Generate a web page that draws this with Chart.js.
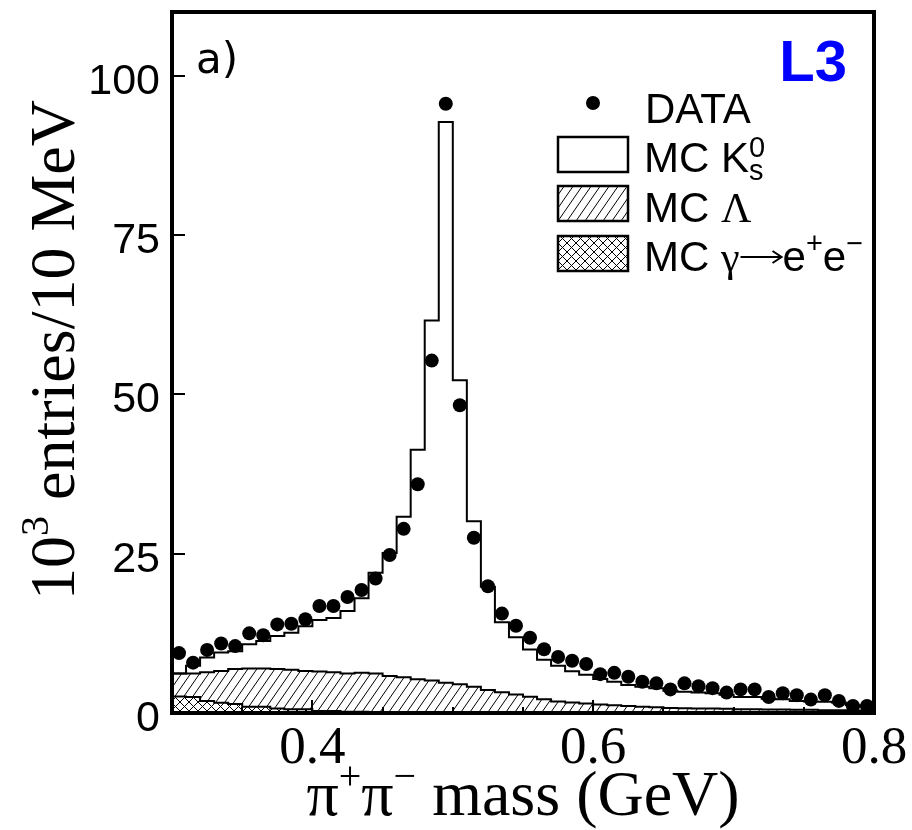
<!DOCTYPE html>
<html>
<head>
<meta charset="utf-8">
<script src="https://cdn.jsdelivr.net/npm/chart.js@4.4.0/dist/chart.umd.min.js"></script>
<style>
  html, body { margin: 0; padding: 0; background: #fff; }
  #wrap { width: 912px; height: 830px; position: relative; }
</style>
</head>
<body>
<div id="wrap"><canvas id="massChart"></canvas></div>
<script>
// pi+pi- mass bins (low edges, GeV), 10 MeV wide
const massBins = [0.30, 0.31, 0.32, 0.33, 0.34, 0.35, 0.36, 0.37, 0.38, 0.39,
                  0.40, 0.41, 0.42, 0.43, 0.44, 0.45, 0.46, 0.47, 0.48, 0.49,
                  0.50, 0.51, 0.52, 0.53, 0.54, 0.55, 0.56, 0.57, 0.58, 0.59,
                  0.60, 0.61, 0.62, 0.63, 0.64, 0.65, 0.66, 0.67, 0.68, 0.69,
                  0.70, 0.71, 0.72, 0.73, 0.74, 0.75, 0.76, 0.77, 0.78, 0.79];
const binWidth = 0.01;

// 10^3 entries / 10 MeV
const dataEntries = [9.4, 7.9, 9.9, 10.9, 10.5, 12.5, 12.2, 13.9, 14.0, 14.7,
                     16.8, 16.8, 18.2, 19.3, 21.1, 24.8, 28.9, 35.9, 55.3, 95.6,
                     48.3, 27.5, 19.9, 15.6, 13.7, 11.8, 10.0, 8.8, 8.2, 7.7,
                     6.1, 6.3, 5.7, 4.9, 4.65, 3.7, 4.65, 4.2, 3.9, 3.2,
                     3.7, 3.7, 2.5, 3.1, 2.8, 2.1, 2.8, 1.9, 1.1, 1.1];

// MC components (stacked: gamma at the bottom, then Lambda, then K0s)
const mcGamma = [2.6, 2.5, 1.9, 1.6, 1.4, 1.0, 1.0, 0.7, 0.6, 0.6,
                 0.3, 0.3, 0.2, 0.2, 0.1, 0.1, 0.1, 0, 0, 0,
                 0, 0, 0, 0, 0, 0, 0, 0, 0, 0,
                 0, 0, 0, 0, 0, 0, 0, 0, 0, 0,
                 0, 0, 0, 0, 0, 0, 0, 0, 0, 0];
const mcLambda = [3.6, 3.7, 4.5, 5.0, 5.5, 6.0, 6.0, 6.2, 6.2, 6.0,
                  6.2, 6.1, 6.0, 6.1, 6.1, 5.7, 5.5, 5.3, 5.1, 4.75,
                  4.5, 4.1, 3.6, 3.25, 2.9, 2.55, 2.15, 1.8, 1.65, 1.5,
                  1.35, 1.2, 1.1, 1.0, 0.9, 0.8, 0.75, 0.7, 0.7, 0.65,
                  0.6, 0.6, 0.55, 0.55, 0.5, 0.5, 0.45, 0.45, 0.4, 0.4];
const mcK0 = [0, 1.2, 2.3, 2.9, 2.8, 3.8, 4.3, 5.2, 5.8, 7.0,
              8.1, 8.5, 9.8, 11.7, 15.8, 19.3, 25.2, 36.0, 56.5, 88.0,
              47.7, 26.0, 16.2, 11.0, 9.0, 7.4, 6.2, 5.6, 4.9, 4.5,
              4.0, 3.7, 3.3, 3.1, 3.0, 2.7, 2.6, 2.5, 2.4, 2.2,
              1.9, 1.9, 1.7, 1.6, 1.4, 1.3, 1.3, 1.2, 0.8, 0.6];

const yTicks = [0, 25, 50, 75, 100];
const xTicks = [0.4, 0.6, 0.8];

const SANS = '"Liberation Sans", Arial, sans-serif';
const SERIF = '"Liberation Serif", "Times New Roman", serif';

// stacked sums
const lambdaTop = mcLambda.map((v, i) => v + mcGamma[i]);
const k0Top = mcK0.map((v, i) => v + lambdaTop[i]);

// step histogram points: left edges + closing right edge
function steps(values) {
  const pts = massBins.map((x, i) => ({ x: x, y: values[i] }));
  pts.push({ x: massBins[massBins.length - 1] + binWidth, y: values[values.length - 1] });
  return pts;
}

function makePattern(w, h, cross) {
  const c = document.createElement('canvas');
  c.width = w; c.height = h;
  const g = c.getContext('2d');
  g.fillStyle = '#fff';
  g.fillRect(0, 0, w, h);
  g.strokeStyle = '#000';
  g.lineWidth = 1;
  g.beginPath();
  for (let k = -w; k <= w; k += w) {
    g.moveTo(k, h); g.lineTo(k + w, 0);
    if (cross) { g.moveTo(k, 0); g.lineTo(k + w, h); }
  }
  g.stroke();
  return g.createPattern(c, 'repeat');
}
const hatch = makePattern(9, 13, false);
const crossHatch = makePattern(9, 9, true);

// draw a run of text pieces, returns total width
function runText(ctx, pieces, x, y, measureOnly) {
  let cx = x;
  pieces.forEach(p => {
    if (p.arrow) {
      if (!measureOnly) {
        const ay = y - p.arrow.lift;
        ctx.save();
        ctx.lineWidth = 2;
        ctx.strokeStyle = '#000';
        ctx.beginPath();
        ctx.moveTo(cx + 1, ay);
        ctx.lineTo(cx + p.arrow.len - 1, ay);
        ctx.moveTo(cx + p.arrow.len - 10, ay - 6);
        ctx.lineTo(cx + p.arrow.len - 1, ay);
        ctx.lineTo(cx + p.arrow.len - 10, ay + 6);
        ctx.stroke();
        ctx.restore();
      }
      cx += p.arrow.len;
      return;
    }
    ctx.font = p.font;
    if (!measureOnly) ctx.fillText(p.t, cx, y - (p.rise || 0));
    if (!p.noAdvance) cx += ctx.measureText(p.t).width;
  });
  return cx - x;
}

const decorations = {
  id: 'decorations',
  afterDatasetsDraw(chart) {
    const ctx = chart.ctx;
    const a = chart.chartArea;
    const xs = chart.scales.x, ys = chart.scales.y;
    ctx.save();
    ctx.strokeStyle = '#000';
    ctx.lineWidth = 2;
    // inward ticks
    ctx.beginPath();
    for (let v = 0.30; v <= 0.8001; v += 0.05) {
      const px = Math.round(xs.getPixelForValue(v));
      const major = xTicks.some(t => Math.abs(t - v) < 1e-6);
      ctx.moveTo(px, a.bottom);
      ctx.lineTo(px, a.bottom - (major ? 13 : 6));
    }
    yTicks.forEach(v => {
      const py = Math.round(ys.getPixelForValue(v));
      ctx.moveTo(a.left, py);
      ctx.lineTo(a.left + 13, py);
    });
    ctx.stroke();
    // frame
    ctx.lineWidth = 4;
    ctx.strokeRect(a.left, a.top, a.right - a.left, a.bottom - a.top);
    ctx.restore();
  },
  afterDraw(chart) {
    const ctx = chart.ctx;
    const a = chart.chartArea;
    const xs = chart.scales.x, ys = chart.scales.y;
    ctx.save();
    ctx.fillStyle = '#000';
    ctx.textBaseline = 'alphabetic';

    // tick labels
    ctx.font = '43px ' + SANS;
    ctx.textAlign = 'right';
    yTicks.forEach(v => {
      ctx.fillText(String(v), 160, ys.getPixelForValue(v) + 18);
    });
    ctx.font = '53px ' + SERIF;
    ctx.textAlign = 'center';
    xTicks.forEach(v => {
      ctx.fillText(v.toFixed(1), xs.getPixelForValue(v), 763);
    });
    ctx.textAlign = 'left';

    // panel label and experiment tag
    ctx.font = '42px "DejaVu Sans", sans-serif';
    ctx.fillText('a)', 196, 73);
    ctx.fillStyle = '#0000ff';
    ctx.font = 'bold 58px ' + SANS;
    ctx.textAlign = 'right';
    ctx.fillText('L3', 847, 81);
    ctx.textAlign = 'left';
    ctx.fillStyle = '#000';

    // legend
    const big = '42px ' + SANS, small = '29px ' + SANS, greek = '42px ' + SERIF;
    ctx.beginPath();
    ctx.arc(593, 103, 7, 0, Math.PI * 2);
    ctx.fill();
    ctx.font = big;
    ctx.fillText('DATA', 645, 123);

    const boxes = [[137, '#fff'], [186, hatch], [236, crossHatch]];
    boxes.forEach(([by, fill]) => {
      ctx.fillStyle = fill;
      ctx.fillRect(558, by, 70, 35);
      ctx.lineWidth = 2.5;
      ctx.strokeStyle = '#000';
      ctx.strokeRect(558, by, 70, 35);
    });
    ctx.fillStyle = '#000';
    runText(ctx, [
      { t: 'MC K', font: big },
      { t: '0', font: small, rise: 15, noAdvance: true },
      { t: 's', font: small, rise: -8 }
    ], 644, 172);
    runText(ctx, [{ t: 'MC ', font: big }, { t: 'Λ', font: greek }], 644, 222);
    runText(ctx, [
      { t: 'MC ', font: big }, { t: 'γ', font: greek }, { arrow: { len: 43, lift: 14 } },
      { t: 'e', font: big }, { t: '+', font: small, rise: 18 },
      { t: 'e', font: big }, { t: '−', font: small, rise: 18 }
    ], 644, 271);

    // axis titles
    const tBig = '64px ' + SERIF, tSmall = '40px ' + SERIF;
    const xTitle = [
      { t: 'π', font: tBig }, { t: '+', font: tSmall, rise: 26 },
      { t: 'π', font: tBig }, { t: '−', font: tSmall, rise: 26 },
      { t: ' mass (GeV)', font: tBig }
    ];
    const wX = runText(ctx, xTitle, 0, 0, true);
    runText(ctx, xTitle, (a.left + a.right) / 2 - wX / 2, 815);

    const yTitle = [
      { t: '10', font: tBig }, { t: '3', font: tSmall, rise: 26 },
      { t: ' entries/10 MeV', font: tBig }
    ];
    const wY = runText(ctx, yTitle, 0, 0, true);
    ctx.translate(74, 350);
    ctx.rotate(-Math.PI / 2);
    runText(ctx, yTitle, -wY / 2, 0);
    ctx.restore();
  }
};

const ctx = document.getElementById('massChart');
new Chart(ctx, {
  type: 'line',
  data: {
    datasets: [
      {
        label: 'DATA',
        data: massBins.map((x, i) => ({ x: x + binWidth / 2, y: dataEntries[i] })),
        showLine: false,
        pointRadius: 7,
        pointBackgroundColor: '#000',
        pointBorderColor: '#000',
        pointBorderWidth: 0,
        order: 0
      },
      {
        label: 'MC K0s',
        data: steps(k0Top),
        stepped: 'before',
        borderColor: '#000',
        borderWidth: 2,
        pointRadius: 0,
        fill: false,
        order: 1
      },
      {
        label: 'MC gamma',
        data: steps(mcGamma),
        stepped: 'before',
        borderColor: '#000',
        borderWidth: 2,
        pointRadius: 0,
        fill: 'origin',
        backgroundColor: crossHatch,
        order: 2
      },
      {
        label: 'MC Lambda',
        data: steps(lambdaTop),
        stepped: 'before',
        borderColor: '#000',
        borderWidth: 2,
        pointRadius: 0,
        fill: 'origin',
        backgroundColor: hatch,
        order: 3
      }
    ]
  },
  options: {
    responsive: true,
    maintainAspectRatio: false,
    animation: false,
    layout: { padding: { left: 0, top: 12, right: 38, bottom: 0 } },
    plugins: { legend: { display: false }, tooltip: { enabled: false } },
    scales: {
      x: {
        type: 'linear',
        min: 0.3,
        max: 0.8,
        afterFit: s => { s.height = 117; },
        grid: { display: false, drawTicks: false },
        border: { display: false },
        ticks: { display: false }
      },
      y: {
        min: 0,
        max: 110,
        afterFit: s => { s.width = 172; },
        grid: { display: false, drawTicks: false },
        border: { display: false },
        ticks: { display: false }
      }
    }
  },
  plugins: [decorations]
});
</script>
</body>
</html>
